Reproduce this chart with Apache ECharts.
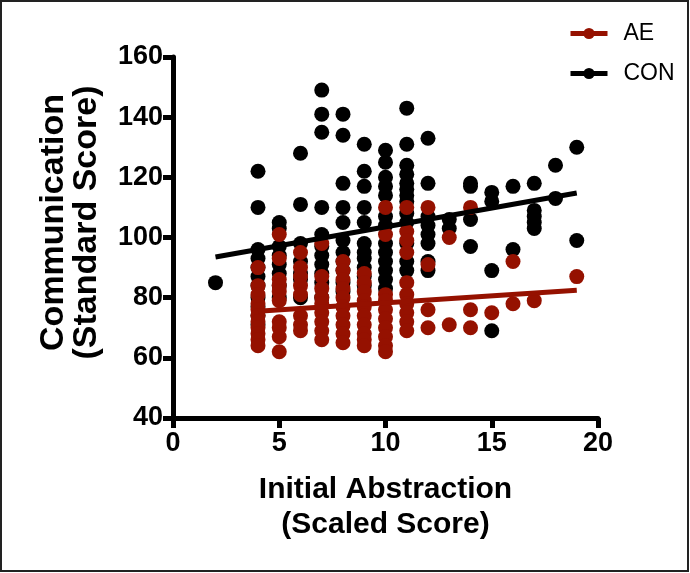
<!DOCTYPE html>
<html>
<head>
<meta charset="utf-8">
<script src="https://cdn.jsdelivr.net/npm/echarts@6/dist/echarts.min.js"></script>
<style>
html,body{margin:0;padding:0;background:#fff;}
#chart{width:690px;height:573px;}
</style>
</head>
<body>
<div id="chart"></div>
<script>
// ---- data ----
const xTicks = [0, 5, 10, 15, 20];
const yTicks = [40, 60, 80, 100, 120, 140, 160];

// CON (black) points: [initial abstraction, communication]
const conX = [2,
  4,4,4,4,4,4,4,4,4,4,4,
  5,5,5,5,5,5,5,5,
  6,6,6,6,6,6,6,
  7,7,7,7,7,7,7,7,7,7,7,
  8,8,8,8,8,8,8,8,8,8,8,
  9,9,9,9,9,9,9,9,9,9,9,
  10,10,10,10,10,10,10,10,10,10,10,10,10,
  11,11,11,11,11,11,11,11,11,11,11,11,11,
  12,12,12,12,12,12,12,12,
  13,13,
  14,14,14,14,
  15,15,15,15,
  16,16,
  17,17,17,17,17,
  18,18,
  19,19];
const conY = [85,
  122,110,96,93,90,87,84,80,77,74,71,
  105,103,97,94,91,88,84,80,
  128,111,98,92,88,86,80,
  149,141,135,110,101,97,94,91,88,85,80,
  141,134,118,110,105,99,95,92,89,85,82,
  131,122,117,110,105,98,95,93,90,87,84,
  129,125,120,117,114,107,104,98,95,92,89,86,83,
  143,131,124,121,118,116,114,112,108,105,98,92,89,
  133,118,107,104,101,98,92,89,
  106,103,
  118,117,106,97,
  115,112,89,69,
  117,96,
  118,109,107,105,103,
  124,113,
  130,99];

// AE (red) points
const aeX = [
  4,4,4,4,4,4,4,4,4,4,4,
  5,5,5,5,5,5,5,5,5,5,
  6,6,6,6,6,6,6,6,
  7,7,7,7,7,7,7,7,7,
  8,8,8,8,8,8,8,8,8,8,
  9,9,9,9,9,9,9,9,9,9,
  10,10,10,10,10,10,10,10,10,10,
  11,11,11,11,11,11,11,11,11,11,
  12,12,12,12,
  13,13,
  14,14,14,
  15,
  16,16,
  17,
  19];
const aeY = [
  90,84,81,78,76,74,72,70,68,66,64,
  101,93,86,84,82,79,72,70,67,62,
  95,90,87,84,81,74,71,69,
  98,87,83,80,78,75,72,69,66,
  92,89,86,83,80,77,74,71,68,65,
  88,85,82,79,77,74,71,68,66,64,
  110,101,81,79,76,73,70,67,64,62,
  110,102,99,95,85,81,78,75,72,69,
  110,91,76,70,
  100,71,
  110,76,70,
  75,
  92,78,
  79,
  87];

// fitted regression lines (end points)
const conFitX = [2, 19];
const conFitY = [93.5, 114.8];
const aeFitX = [4, 19];
const aeFitY = [75.5, 82.5];

const seriesNames = ['AE', 'CON'];
const xTitle = 'Initial Abstraction\n(Scaled Score)';
const yTitle = 'Communication\n(Standard Score)';

// ---- build ----
const zip = (xs, ys) => xs.map((x, i) => [x, ys[i]]);
const RED = '#951100';
const BLACK = '#000000';
const FONT = '"Liberation Sans", Arial, sans-serif';

const chart = echarts.init(document.getElementById('chart'), null, {renderer: 'canvas'});
chart.setOption({
  animation: false,
  backgroundColor: '#fff',
  graphic: [{
    type: 'rect', shape: {x: 1, y: 1, width: 687, height: 570},
    style: {fill: 'none', stroke: '#222', lineWidth: 2}, silent: true
  }],
  legend: {
    data: seriesNames,
    orient: 'vertical',
    left: 568, top: 22,
    itemWidth: 37, itemHeight: 14, itemGap: 17,
    padding: 0,
    lineStyle: {width: 5},
    textStyle: {fontFamily: FONT, fontSize: 23, color: '#000', padding: [0, 0, 0, 11]}
  },
  grid: {left: 173, right: 92, top: 57, bottom: 155, containLabel: false},
  xAxis: {
    type: 'value', min: xTicks[0], max: xTicks[xTicks.length - 1], interval: 5,
    splitLine: {show: false},
    axisLine: {onZero: false, lineStyle: {color: '#000', width: 5}},
    axisTick: {length: 10, lineStyle: {color: '#000', width: 5}},
    axisLabel: {fontFamily: FONT, fontWeight: 'bold', fontSize: 27, color: '#000', margin: 12},
    name: xTitle, nameLocation: 'middle', nameGap: 54,
    nameTextStyle: {fontFamily: FONT, fontWeight: 'bold', fontSize: 30, color: '#000', lineHeight: 35}
  },
  yAxis: {
    type: 'value', min: yTicks[0], max: yTicks[yTicks.length - 1], interval: 20,
    splitLine: {show: false},
    axisLine: {onZero: false, lineStyle: {color: '#000', width: 5}},
    axisTick: {length: 10, lineStyle: {color: '#000', width: 5}},
    axisLabel: {fontFamily: FONT, fontWeight: 'bold', fontSize: 27, color: '#000', margin: 10},
    name: yTitle, nameLocation: 'middle', nameGap: 70, nameRotate: 90,
    nameTextStyle: {fontFamily: FONT, fontWeight: 'bold', fontSize: 34, color: '#000', lineHeight: 33, padding: [0, 0, 0, 30]}
  },
  series: [
    {
      name: 'AE', type: 'line', data: zip(aeFitX, aeFitY), z: 5,
      symbol: 'circle', showSymbol: false, symbolSize: 14,
      lineStyle: {color: RED, width: 5}, itemStyle: {color: RED}, silent: true
    },
    {
      name: 'CON', type: 'line', data: zip(conFitX, conFitY), z: 5,
      symbol: 'circle', showSymbol: false, symbolSize: 14,
      lineStyle: {color: BLACK, width: 5}, itemStyle: {color: BLACK}, silent: true
    },
    {
      name: 'CON', type: 'scatter', data: zip(conX, conY), z: 2,
      symbol: 'circle', symbolSize: 15, itemStyle: {color: BLACK, opacity: 1}
    },
    {
      name: 'AE', type: 'scatter', data: zip(aeX, aeY), z: 3,
      symbol: 'circle', symbolSize: 15, itemStyle: {color: RED, opacity: 1}
    }
  ]
});
</script>
</body>
</html>
